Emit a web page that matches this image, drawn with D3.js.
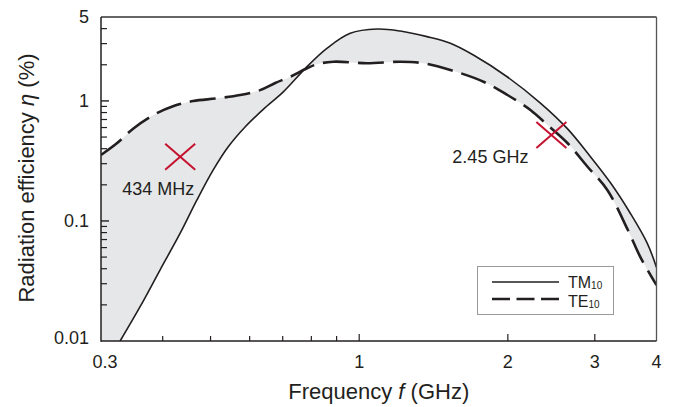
<!DOCTYPE html>
<html><head><meta charset="utf-8">
<script src="https://cdn.jsdelivr.net/npm/d3@7"></script>
<style>
html,body{margin:0;padding:0;background:#fff;}
svg{display:block;font-family:"Liberation Sans",Arial,Helvetica,sans-serif;}
</style></head>
<body>
<svg id="chart" width="681" height="407"></svg>
<script>
// ---- data (frequency in GHz, efficiency in %) ----
const tmFreq = [0.328,0.360,0.395,0.434,0.469,0.506,0.543,0.588,0.648,0.702,0.784,0.860,0.959,1.087,1.211,1.372,1.530,1.703,1.993,2.328,2.637,2.94,3.23,3.54,3.83,4.0];
const tmEff  = [0.01,0.0193,0.039,0.079,0.149,0.265,0.415,0.61,0.894,1.19,1.93,2.74,3.66,3.97,3.82,3.43,3.02,2.41,1.59,0.96,0.59,0.343,0.207,0.116,0.0654,0.041];
const teFreq = [0.300,0.323,0.349,0.383,0.421,0.461,0.515,0.574,0.630,0.676,0.725,0.784,0.821,0.887,1.037,1.211,1.349,1.530,1.785,1.996,2.222,2.406,2.64,2.90,3.18,3.50,3.71,4.0];
const teEff  = [0.354,0.443,0.59,0.762,0.906,0.998,1.05,1.12,1.23,1.41,1.59,1.87,2.02,2.12,2.06,2.12,2.06,1.81,1.445,1.12,0.84,0.63,0.446,0.283,0.181,0.084,0.05,0.0292];
const markerFreq = [0.434, 2.45];
const markerEff  = [0.343, 0.52];
const markerLabels = ["434 MHz", "2.45 GHz"];
const xTickLabels = [0.3, 1, 2, 3, 4];
const xMinorTicks = [0.4,0.5,0.6,0.7,0.8,0.9];
const xMajorTicks = [1,2,3];
const yTickLabels = [0.01, 0.1, 1, 5];
const yMajorTicks = [0.1, 1];
const yMinorTicks = [0.02,0.03,0.04,0.05,0.06,0.07,0.08,0.09,0.2,0.3,0.4,0.5,0.6,0.7,0.8,0.9,2,3,4];
const seriesNames = ["TM", "TE"];
const seriesSubs = ["10", "10"];

// ---- layout ----
const L = 101, R = 656.5, T = 17, B = 341;
const ink = "#231f20";
const svg = d3.select("#chart");
const x = d3.scaleLog().domain([0.3, 4]).range([L, R]);
const y = d3.scaleLog().domain([0.01, 5]).range([B, T]);

const tm = tmFreq.map((f,i)=>[x(f), y(tmEff[i])]);
const te = teFreq.map((f,i)=>[x(f), y(teEff[i])]);

svg.append("defs").append("clipPath").attr("id","clip")
  .append("rect").attr("x",L).attr("y",T).attr("width",R-L).attr("height",B-T);

const g = svg.append("g").attr("clip-path","url(#clip)");
const line = d3.line().curve(d3.curveCatmullRom.alpha(0.5));

// fill between curves: TE forward, then TM reversed, closed along the bottom
const tePath = line(te);
const tmRevPath = line(tm.slice().reverse());
g.append("path")
  .attr("d", tePath + "L" + tmRevPath.slice(1) + "L" + x(0.3) + "," + y(0.01) + "Z")
  .attr("fill", "#e6e7e8").attr("stroke","none");

g.append("path").attr("d", line(tm)).attr("fill","none").attr("stroke",ink).attr("stroke-width",1.6);
g.append("path").attr("d", line(te)).attr("fill","none").attr("stroke",ink).attr("stroke-width",2.6)
  .attr("stroke-dasharray","26,9");

// frame
svg.append("line").attr("x1",L).attr("x2",R).attr("y1",T).attr("y2",T).attr("stroke","#333").attr("stroke-width",1.3);
svg.append("line").attr("x1",R).attr("x2",R).attr("y1",T).attr("y2",B).attr("stroke","#555").attr("stroke-width",1.3);
svg.append("line").attr("x1",L).attr("x2",L).attr("y1",T).attr("y2",B+0.7).attr("stroke",ink).attr("stroke-width",1.5);
svg.append("line").attr("x1",L).attr("x2",R).attr("y1",B).attr("y2",B).attr("stroke",ink).attr("stroke-width",1.5);

// ticks (inward)
svg.selectAll(".xmin").data(xMinorTicks).join("line")
  .attr("x1",d=>x(d)).attr("x2",d=>x(d)).attr("y1",B).attr("y2",B-5).attr("stroke",ink).attr("stroke-width",1.2);
svg.selectAll(".xmaj").data(xMajorTicks).join("line")
  .attr("x1",d=>x(d)).attr("x2",d=>x(d)).attr("y1",B).attr("y2",B-7).attr("stroke",ink).attr("stroke-width",1.2);
svg.selectAll(".ymin").data(yMinorTicks).join("line")
  .attr("x1",L).attr("x2",L+6).attr("y1",d=>y(d)).attr("y2",d=>y(d)).attr("stroke",ink).attr("stroke-width",1.2);
svg.selectAll(".ymaj").data(yMajorTicks).join("line")
  .attr("x1",L).attr("x2",L+8).attr("y1",d=>y(d)).attr("y2",d=>y(d)).attr("stroke",ink).attr("stroke-width",1.4);

// tick labels
svg.selectAll(".xl").data(xTickLabels).join("text")
  .attr("x",(d,i)=>x(d) + (i===0?4:0)).attr("y",368)
  .attr("text-anchor","middle").attr("font-size",18).attr("fill",ink).text(d=>d);
svg.selectAll(".yl").data(yTickLabels).join("text")
  .attr("x",89).attr("y",(d,i)=>y(d) + (i===0?-3:0)).attr("dy","0.35em")
  .attr("text-anchor","end").attr("font-size",18).attr("fill",ink).text(d=>d);

// axis titles
const xt = svg.append("text").attr("x",(L+R)/2).attr("y",399).attr("text-anchor","middle")
  .attr("font-size",22).attr("fill",ink);
xt.append("tspan").text("Frequency ");
xt.append("tspan").attr("font-style","italic").text("f");
xt.append("tspan").text(" (GHz)");

const yt = svg.append("text").attr("transform","translate(34,178) rotate(-90)").attr("text-anchor","middle")
  .attr("font-size",22).attr("fill",ink);
yt.append("tspan").text("Radiation efficiency ");
yt.append("tspan").attr("font-style","italic").text("η");
yt.append("tspan").text(" (%)");

// markers
const red = "#c4122f";
markerFreq.forEach((f,i)=>{
  const cx = x(f), cy = y(markerEff[i]);
  svg.append("line").attr("x1",cx-15).attr("y1",cy-13).attr("x2",cx+15).attr("y2",cy+13).attr("stroke",red).attr("stroke-width",2);
  svg.append("line").attr("x1",cx-15).attr("y1",cy+13).attr("x2",cx+15).attr("y2",cy-13).attr("stroke",red).attr("stroke-width",2);
});
svg.append("text").attr("x",x(markerFreq[0])-58).attr("y",195).attr("font-size",18).attr("fill",ink).text(markerLabels[0]);
svg.append("text").attr("x",x(markerFreq[1])-99).attr("y",163).attr("font-size",18).attr("fill",ink).text(markerLabels[1]);

// legend
const lg = svg.append("g");
lg.append("rect").attr("x",477.5).attr("y",266.5).attr("width",136).attr("height",48)
  .attr("fill","#fff").attr("stroke","#999").attr("stroke-width",1);
const ly = [282, 299];
const lb = [288.2, 306.5];
lg.append("line").attr("x1",492).attr("x2",559).attr("y1",ly[0]).attr("y2",ly[0]).attr("stroke",ink).attr("stroke-width",1.6);
lg.append("line").attr("x1",492).attr("x2",559).attr("y1",ly[1]).attr("y2",ly[1]).attr("stroke",ink).attr("stroke-width",2.6)
  .attr("stroke-dasharray","18,6.5");
seriesNames.forEach((n,i)=>{
  const t = lg.append("text").attr("x",568).attr("y",lb[i]).attr("font-size",16).attr("fill",ink);
  t.append("tspan").text(n);
  t.append("tspan").attr("font-size",10).attr("dy",1).text(seriesSubs[i]);
});
</script>
</body></html>
